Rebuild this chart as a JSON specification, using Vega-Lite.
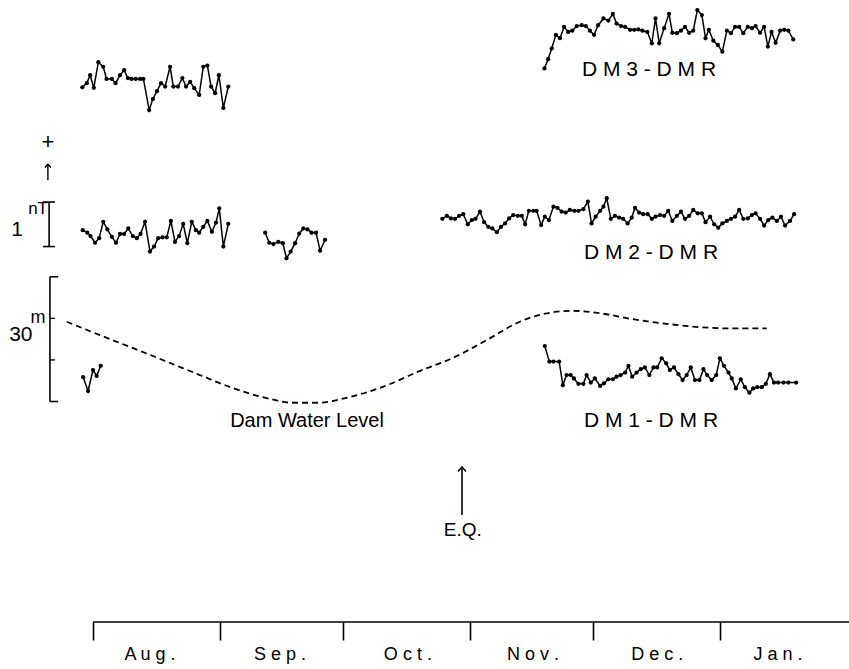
{
  "$schema": "https://vega.github.io/schema/vega-lite/v6.json",
  "width": 849,
  "height": 622,
  "autosize": {"type": "none"},
  "padding": {"left": 0, "top": 0, "right": 0, "bottom": 47},
  "background": "white",
  "config": {"view": {"stroke": null}, "text": {"font": "Liberation Sans", "color": "black"}},
  "data": {"values": [{}]},
  "datasets": {
    "months": [
      {"month": "A u g .", "mid": 13.9}, {"month": "S e p .", "mid": 45.6}, {"month": "O c t .", "mid": 76.8},
      {"month": "N o v .", "mid": 107.3}, {"month": "D e c .", "mid": 137.6}, {"month": "J a n .", "mid": 167.1}
    ],
    "obs": [
      {"seg":"DM3a","day":-2.6,"value":12.73},{"seg":"DM3a","day":-1.5,"value":12.83},{"seg":"DM3a","day":-0.7,"value":13.02},{"seg":"DM3a","day":0.2,"value":12.72},{"seg":"DM3a","day":1.3,"value":13.33},{"seg":"DM3a","day":2.5,"value":13.22},{"seg":"DM3a","day":3.3,"value":12.93},{"seg":"DM3a","day":4.6,"value":12.93},{"seg":"DM3a","day":5.5,"value":12.83},{"seg":"DM3a","day":6.6,"value":13.02},{"seg":"DM3a","day":7.6,"value":13.14},{"seg":"DM3a","day":8.5,"value":12.95},{"seg":"DM3a","day":9.4,"value":12.93},{"seg":"DM3a","day":10.4,"value":12.93},{"seg":"DM3a","day":11.5,"value":12.93},{"seg":"DM3a","day":12.3,"value":12.93},{"seg":"DM3a","day":13.7,"value":12.19},{"seg":"DM3a","day":14.6,"value":12.45},{"seg":"DM3a","day":15.6,"value":12.64},{"seg":"DM3a","day":16.6,"value":12.83},{"seg":"DM3a","day":17.6,"value":12.75},{"seg":"DM3a","day":18.8,"value":13.22},{"seg":"DM3a","day":19.6,"value":12.75},{"seg":"DM3a","day":20.7,"value":12.75},{"seg":"DM3a","day":21.8,"value":12.95},{"seg":"DM3a","day":22.7,"value":12.75},{"seg":"DM3a","day":23.7,"value":12.86},{"seg":"DM3a","day":24.7,"value":12.71},{"seg":"DM3a","day":25.9,"value":12.55},{"seg":"DM3a","day":26.9,"value":13.22},{"seg":"DM3a","day":27.9,"value":13.25},{"seg":"DM3a","day":28.8,"value":12.75},{"seg":"DM3a","day":29.8,"value":12.59},{"seg":"DM3a","day":30.7,"value":13.02},{"seg":"DM3a","day":31.8,"value":12.24},{"seg":"DM3a","day":33.0,"value":12.75},
      {"seg":"DM3b","day":110.1,"value":13.18},{"seg":"DM3b","day":111.0,"value":13.40},{"seg":"DM3b","day":111.9,"value":13.66},{"seg":"DM3b","day":112.9,"value":13.98},{"seg":"DM3b","day":113.9,"value":13.90},{"seg":"DM3b","day":114.9,"value":14.17},{"seg":"DM3b","day":115.9,"value":14.05},{"seg":"DM3b","day":116.9,"value":14.08},{"seg":"DM3b","day":118.0,"value":14.19},{"seg":"DM3b","day":119.2,"value":14.21},{"seg":"DM3b","day":120.2,"value":14.19},{"seg":"DM3b","day":121.2,"value":14.08},{"seg":"DM3b","day":122.2,"value":13.98},{"seg":"DM3b","day":123.2,"value":14.21},{"seg":"DM3b","day":124.5,"value":14.37},{"seg":"DM3b","day":125.7,"value":14.32},{"seg":"DM3b","day":126.8,"value":14.48},{"seg":"DM3b","day":127.7,"value":14.25},{"seg":"DM3b","day":128.8,"value":14.19},{"seg":"DM3b","day":129.8,"value":14.17},{"seg":"DM3b","day":131.0,"value":14.10},{"seg":"DM3b","day":132.0,"value":14.10},{"seg":"DM3b","day":133.0,"value":14.11},{"seg":"DM3b","day":134.0,"value":14.08},{"seg":"DM3b","day":135.2,"value":14.05},{"seg":"DM3b","day":136.3,"value":13.78},{"seg":"DM3b","day":137.2,"value":14.37},{"seg":"DM3b","day":138.1,"value":13.78},{"seg":"DM3b","day":139.3,"value":14.14},{"seg":"DM3b","day":140.5,"value":14.48},{"seg":"DM3b","day":141.3,"value":14.03},{"seg":"DM3b","day":142.4,"value":14.02},{"seg":"DM3b","day":143.4,"value":14.08},{"seg":"DM3b","day":144.4,"value":14.17},{"seg":"DM3b","day":145.4,"value":14.03},{"seg":"DM3b","day":146.4,"value":14.08},{"seg":"DM3b","day":147.4,"value":14.57},{"seg":"DM3b","day":148.5,"value":14.45},{"seg":"DM3b","day":149.4,"value":13.90},{"seg":"DM3b","day":150.2,"value":14.10},{"seg":"DM3b","day":151.3,"value":13.84},{"seg":"DM3b","day":152.4,"value":13.74},{"seg":"DM3b","day":153.5,"value":13.58},{"seg":"DM3b","day":154.6,"value":14.08},{"seg":"DM3b","day":155.6,"value":14.02},{"seg":"DM3b","day":156.6,"value":14.17},{"seg":"DM3b","day":157.6,"value":14.17},{"seg":"DM3b","day":158.6,"value":14.02},{"seg":"DM3b","day":159.7,"value":14.17},{"seg":"DM3b","day":160.7,"value":14.14},{"seg":"DM3b","day":161.6,"value":14.19},{"seg":"DM3b","day":162.7,"value":14.03},{"seg":"DM3b","day":163.7,"value":14.17},{"seg":"DM3b","day":164.6,"value":13.70},{"seg":"DM3b","day":165.5,"value":14.05},{"seg":"DM3b","day":166.5,"value":13.79},{"seg":"DM3b","day":167.6,"value":14.08},{"seg":"DM3b","day":168.6,"value":14.10},{"seg":"DM3b","day":169.6,"value":14.08},{"seg":"DM3b","day":170.8,"value":13.87},
      {"seg":"DM2a","day":-2.5,"value":9.33},{"seg":"DM2a","day":-1.4,"value":9.27},{"seg":"DM2a","day":-0.6,"value":9.19},{"seg":"DM2a","day":0.5,"value":9.03},{"seg":"DM2a","day":1.5,"value":9.14},{"seg":"DM2a","day":2.5,"value":9.53},{"seg":"DM2a","day":3.5,"value":9.35},{"seg":"DM2a","day":4.6,"value":9.17},{"seg":"DM2a","day":5.6,"value":9.03},{"seg":"DM2a","day":6.6,"value":9.24},{"seg":"DM2a","day":7.6,"value":9.24},{"seg":"DM2a","day":8.6,"value":9.37},{"seg":"DM2a","day":9.7,"value":9.19},{"seg":"DM2a","day":10.7,"value":9.14},{"seg":"DM2a","day":11.6,"value":9.24},{"seg":"DM2a","day":12.7,"value":9.53},{"seg":"DM2a","day":13.9,"value":8.82},{"seg":"DM2a","day":14.9,"value":8.94},{"seg":"DM2a","day":15.9,"value":9.14},{"seg":"DM2a","day":17.0,"value":9.16},{"seg":"DM2a","day":18.0,"value":9.16},{"seg":"DM2a","day":19.0,"value":9.55},{"seg":"DM2a","day":20.0,"value":9.05},{"seg":"DM2a","day":21.0,"value":9.19},{"seg":"DM2a","day":22.0,"value":9.48},{"seg":"DM2a","day":23.0,"value":9.02},{"seg":"DM2a","day":24.1,"value":9.53},{"seg":"DM2a","day":25.1,"value":9.33},{"seg":"DM2a","day":25.9,"value":9.27},{"seg":"DM2a","day":26.9,"value":9.41},{"seg":"DM2a","day":27.9,"value":9.55},{"seg":"DM2a","day":29.0,"value":9.29},{"seg":"DM2a","day":30.0,"value":9.51},{"seg":"DM2a","day":30.8,"value":9.85},{"seg":"DM2a","day":31.8,"value":8.94},{"seg":"DM2a","day":33.0,"value":9.48},
      {"seg":"DM2b","day":42.0,"value":9.27},{"seg":"DM2b","day":43.0,"value":9.03},{"seg":"DM2b","day":44.0,"value":9.00},{"seg":"DM2b","day":45.2,"value":9.05},{"seg":"DM2b","day":46.3,"value":9.02},{"seg":"DM2b","day":47.2,"value":8.66},{"seg":"DM2b","day":48.2,"value":8.82},{"seg":"DM2b","day":49.3,"value":9.02},{"seg":"DM2b","day":50.3,"value":9.25},{"seg":"DM2b","day":51.3,"value":9.37},{"seg":"DM2b","day":52.3,"value":9.35},{"seg":"DM2b","day":53.3,"value":9.27},{"seg":"DM2b","day":54.4,"value":9.27},{"seg":"DM2b","day":55.4,"value":8.84},{"seg":"DM2b","day":56.6,"value":9.10},
      {"seg":"DM2c","day":85.2,"value":9.60},{"seg":"DM2c","day":86.3,"value":9.67},{"seg":"DM2c","day":87.3,"value":9.61},{"seg":"DM2c","day":88.3,"value":9.60},{"seg":"DM2c","day":89.3,"value":9.67},{"seg":"DM2c","day":90.3,"value":9.71},{"seg":"DM2c","day":91.4,"value":9.47},{"seg":"DM2c","day":92.4,"value":9.57},{"seg":"DM2c","day":93.3,"value":9.60},{"seg":"DM2c","day":94.4,"value":9.77},{"seg":"DM2c","day":95.4,"value":9.52},{"seg":"DM2c","day":96.4,"value":9.41},{"seg":"DM2c","day":97.4,"value":9.37},{"seg":"DM2c","day":98.5,"value":9.28},{"seg":"DM2c","day":99.5,"value":9.41},{"seg":"DM2c","day":100.5,"value":9.49},{"seg":"DM2c","day":101.5,"value":9.61},{"seg":"DM2c","day":102.5,"value":9.69},{"seg":"DM2c","day":103.6,"value":9.67},{"seg":"DM2c","day":104.6,"value":9.67},{"seg":"DM2c","day":105.4,"value":9.47},{"seg":"DM2c","day":106.3,"value":9.79},{"seg":"DM2c","day":107.4,"value":9.79},{"seg":"DM2c","day":108.2,"value":9.79},{"seg":"DM2c","day":109.3,"value":9.45},{"seg":"DM2c","day":110.2,"value":9.65},{"seg":"DM2c","day":111.2,"value":9.57},{"seg":"DM2c","day":112.3,"value":9.89},{"seg":"DM2c","day":113.3,"value":9.86},{"seg":"DM2c","day":114.3,"value":9.77},{"seg":"DM2c","day":115.3,"value":9.75},{"seg":"DM2c","day":116.3,"value":9.81},{"seg":"DM2c","day":117.4,"value":9.79},{"seg":"DM2c","day":118.4,"value":9.79},{"seg":"DM2c","day":119.6,"value":9.83},{"seg":"DM2c","day":120.7,"value":10.01},{"seg":"DM2c","day":121.6,"value":9.49},{"seg":"DM2c","day":122.6,"value":9.65},{"seg":"DM2c","day":123.7,"value":9.79},{"seg":"DM2c","day":124.5,"value":9.89},{"seg":"DM2c","day":125.3,"value":10.09},{"seg":"DM2c","day":126.3,"value":9.60},{"seg":"DM2c","day":127.3,"value":9.67},{"seg":"DM2c","day":128.3,"value":9.63},{"seg":"DM2c","day":129.3,"value":9.60},{"seg":"DM2c","day":130.4,"value":9.49},{"seg":"DM2c","day":131.4,"value":9.63},{"seg":"DM2c","day":132.2,"value":9.86},{"seg":"DM2c","day":133.2,"value":9.75},{"seg":"DM2c","day":134.2,"value":9.71},{"seg":"DM2c","day":135.3,"value":9.71},{"seg":"DM2c","day":136.3,"value":9.60},{"seg":"DM2c","day":137.2,"value":9.65},{"seg":"DM2c","day":138.3,"value":9.69},{"seg":"DM2c","day":139.3,"value":9.67},{"seg":"DM2c","day":140.3,"value":9.79},{"seg":"DM2c","day":141.3,"value":9.55},{"seg":"DM2c","day":142.4,"value":9.67},{"seg":"DM2c","day":143.4,"value":9.77},{"seg":"DM2c","day":144.4,"value":9.60},{"seg":"DM2c","day":145.4,"value":9.67},{"seg":"DM2c","day":146.4,"value":9.81},{"seg":"DM2c","day":147.5,"value":9.73},{"seg":"DM2c","day":148.5,"value":9.73},{"seg":"DM2c","day":149.4,"value":9.52},{"seg":"DM2c","day":150.5,"value":9.65},{"seg":"DM2c","day":151.5,"value":9.47},{"seg":"DM2c","day":152.5,"value":9.39},{"seg":"DM2c","day":153.5,"value":9.49},{"seg":"DM2c","day":154.6,"value":9.55},{"seg":"DM2c","day":155.6,"value":9.60},{"seg":"DM2c","day":156.6,"value":9.65},{"seg":"DM2c","day":157.6,"value":9.81},{"seg":"DM2c","day":158.6,"value":9.60},{"seg":"DM2c","day":159.7,"value":9.61},{"seg":"DM2c","day":160.7,"value":9.69},{"seg":"DM2c","day":161.6,"value":9.73},{"seg":"DM2c","day":162.7,"value":9.60},{"seg":"DM2c","day":163.7,"value":9.44},{"seg":"DM2c","day":164.7,"value":9.57},{"seg":"DM2c","day":165.7,"value":9.63},{"seg":"DM2c","day":166.8,"value":9.55},{"seg":"DM2c","day":167.8,"value":9.65},{"seg":"DM2c","day":168.8,"value":9.44},{"seg":"DM2c","day":170.0,"value":9.55},{"seg":"DM2c","day":171.0,"value":9.71},
      {"seg":"DM1a","day":-2.4,"value":5.83},{"seg":"DM1a","day":-1.2,"value":5.50},{"seg":"DM1a","day":0.0,"value":6.00},{"seg":"DM1a","day":0.9,"value":5.86},{"seg":"DM1a","day":1.9,"value":6.10},
      {"seg":"DM1b","day":110.2,"value":6.57},{"seg":"DM1b","day":111.3,"value":6.20},{"seg":"DM1b","day":112.3,"value":6.20},{"seg":"DM1b","day":113.7,"value":6.20},{"seg":"DM1b","day":114.6,"value":5.64},{"seg":"DM1b","day":115.5,"value":5.88},{"seg":"DM1b","day":116.5,"value":5.88},{"seg":"DM1b","day":117.3,"value":5.80},{"seg":"DM1b","day":118.4,"value":5.67},{"seg":"DM1b","day":119.6,"value":5.67},{"seg":"DM1b","day":120.4,"value":5.88},{"seg":"DM1b","day":121.4,"value":5.70},{"seg":"DM1b","day":122.4,"value":5.80},{"seg":"DM1b","day":123.7,"value":5.62},{"seg":"DM1b","day":124.6,"value":5.68},{"seg":"DM1b","day":125.7,"value":5.78},{"seg":"DM1b","day":126.8,"value":5.78},{"seg":"DM1b","day":127.7,"value":5.84},{"seg":"DM1b","day":128.7,"value":5.88},{"seg":"DM1b","day":129.8,"value":5.94},{"seg":"DM1b","day":130.6,"value":6.10},{"seg":"DM1b","day":131.5,"value":5.84},{"seg":"DM1b","day":132.6,"value":5.94},{"seg":"DM1b","day":133.6,"value":6.02},{"seg":"DM1b","day":134.6,"value":6.06},{"seg":"DM1b","day":135.7,"value":5.88},{"seg":"DM1b","day":136.7,"value":6.06},{"seg":"DM1b","day":137.6,"value":6.06},{"seg":"DM1b","day":138.7,"value":6.28},{"seg":"DM1b","day":139.8,"value":6.16},{"seg":"DM1b","day":140.7,"value":6.00},{"seg":"DM1b","day":141.7,"value":6.06},{"seg":"DM1b","day":142.8,"value":5.90},{"seg":"DM1b","day":143.8,"value":5.76},{"seg":"DM1b","day":144.8,"value":5.88},{"seg":"DM1b","day":145.8,"value":6.06},{"seg":"DM1b","day":146.8,"value":5.76},{"seg":"DM1b","day":147.9,"value":5.76},{"seg":"DM1b","day":148.9,"value":6.02},{"seg":"DM1b","day":149.8,"value":5.88},{"seg":"DM1b","day":150.9,"value":5.76},{"seg":"DM1b","day":152.0,"value":5.88},{"seg":"DM1b","day":152.9,"value":6.28},{"seg":"DM1b","day":153.9,"value":6.10},{"seg":"DM1b","day":155.0,"value":5.94},{"seg":"DM1b","day":155.8,"value":5.80},{"seg":"DM1b","day":156.8,"value":5.56},{"seg":"DM1b","day":158.0,"value":5.78},{"seg":"DM1b","day":159.0,"value":5.59},{"seg":"DM1b","day":160.1,"value":5.46},{"seg":"DM1b","day":161.0,"value":5.56},{"seg":"DM1b","day":162.0,"value":5.59},{"seg":"DM1b","day":163.1,"value":5.59},{"seg":"DM1b","day":164.1,"value":5.67},{"seg":"DM1b","day":165.1,"value":5.90},{"seg":"DM1b","day":166.1,"value":5.70},{"seg":"DM1b","day":167.1,"value":5.70},{"seg":"DM1b","day":168.4,"value":5.70},{"seg":"DM1b","day":169.6,"value":5.70},{"seg":"DM1b","day":171.5,"value":5.70}
    ],
    "dam": [
      {"day":-6.4,"level":7.15},{"day":1.7,"level":6.83},{"day":9.8,"level":6.52},{"day":18.0,"level":6.20},{"day":26.1,"level":5.88},{"day":34.1,"level":5.57},{"day":42.4,"level":5.33},{"day":48.8,"level":5.22},{"day":54.6,"level":5.22},{"day":62.7,"level":5.36},{"day":70.7,"level":5.60},{"day":79.8,"level":5.98},{"day":87.8,"level":6.29},{"day":96.0,"level":6.71},{"day":104.1,"level":7.15},{"day":110.7,"level":7.35},{"day":117.1,"level":7.41},{"day":123.7,"level":7.35},{"day":131.7,"level":7.21},{"day":139.9,"level":7.10},{"day":148.0,"level":7.02},{"day":156.1,"level":6.99},{"day":164.3,"level":6.99}
    ]
  },
  "layer": [
    {
      "data": {"name": "obs"},
      "mark": {"type": "line", "color": "black", "strokeWidth": 1.5, "point": {"filled": true, "size": 18, "color": "black", "opacity": 1}},
      "encoding": {
        "x": {"field": "day", "type": "quantitative",
          "scale": {"domain": [-22.68, 184.39], "nice": false, "zero": false},
          "axis": {"values": [0, 31, 61, 92, 122, 153], "domain": false, "grid": false, "ticks": true, "tickSize": 18, "tickWidth": 1.6, "tickColor": "black", "labels": false, "title": null}},
        "y": {"field": "value", "type": "quantitative", "scale": {"domain": [0, 14.81], "nice": false, "zero": false}, "axis": null},
        "detail": {"field": "seg"}
      }
    },
    {
      "data": {"name": "dam"},
      "mark": {"type": "line", "color": "black", "strokeWidth": 1.8, "strokeDash": [6, 4], "interpolate": "monotone"},
      "encoding": {
        "x": {"field": "day", "type": "quantitative", "title": null},
        "y": {"field": "level", "type": "quantitative", "axis": null}
      }
    },
    {
      "data": {"name": "months"},
      "mark": {"type": "text", "fontSize": 18, "align": "center", "baseline": "middle"},
      "encoding": {
        "x": {"field": "mid", "type": "quantitative", "title": null},
        "y": {"datum": -0.79, "type": "quantitative", "axis": null},
        "text": {"field": "month"}
      }
    },
    {"mark": {"type": "rule", "color": "black", "strokeWidth": 1.6}, "encoding": {"x": {"datum": 0, "type": "quantitative"}, "x2": {"datum": 184.39}, "y": {"datum": 0, "type": "quantitative", "axis": null}}},
    {"mark": {"type": "rule", "color": "black", "strokeWidth": 1.6}, "encoding": {"x": {"datum": -10.7, "type": "quantitative"}, "y": {"datum": 8.94, "type": "quantitative", "axis": null}, "y2": {"datum": 10.0}}},
    {"mark": {"type": "rule", "color": "black", "strokeWidth": 1.6}, "encoding": {"x": {"datum": -12.2, "type": "quantitative"}, "x2": {"datum": -9.3}, "y": {"datum": 10.0, "type": "quantitative", "axis": null}}},
    {"mark": {"type": "rule", "color": "black", "strokeWidth": 1.6}, "encoding": {"x": {"datum": -12.2, "type": "quantitative"}, "x2": {"datum": -9.3}, "y": {"datum": 8.94, "type": "quantitative", "axis": null}}},
    {"mark": {"type": "rule", "color": "black", "strokeWidth": 1.6}, "encoding": {"x": {"datum": -10.5, "type": "quantitative"}, "y": {"datum": 5.25, "type": "quantitative", "axis": null}, "y2": {"datum": 8.22}}},
    {"mark": {"type": "rule", "color": "black", "strokeWidth": 1.6}, "encoding": {"x": {"datum": -10.5, "type": "quantitative"}, "x2": {"datum": -8.5}, "y": {"datum": 8.22, "type": "quantitative", "axis": null}}},
    {"mark": {"type": "rule", "color": "black", "strokeWidth": 1.6}, "encoding": {"x": {"datum": -10.5, "type": "quantitative"}, "x2": {"datum": -8.5}, "y": {"datum": 5.25, "type": "quantitative", "axis": null}}},
    {"mark": {"type": "rule", "color": "black", "strokeWidth": 1.4}, "encoding": {"x": {"datum": -10.5, "type": "quantitative"}, "x2": {"datum": -9.3}, "y": {"datum": 7.23, "type": "quantitative", "axis": null}}},
    {"mark": {"type": "rule", "color": "black", "strokeWidth": 1.4}, "encoding": {"x": {"datum": -10.5, "type": "quantitative"}, "x2": {"datum": -9.3}, "y": {"datum": 6.24, "type": "quantitative", "axis": null}}},
    {"mark": {"type": "rule", "color": "black", "strokeWidth": 1.4}, "encoding": {"x": {"datum": -11.0, "type": "quantitative"}, "y": {"datum": 10.52, "type": "quantitative", "axis": null}, "y2": {"datum": 10.9}}},
    {"mark": {"type": "point", "shape": "M-1,1.1L0,0L1,1.1", "filled": false, "size": 36, "strokeWidth": 1.4, "color": "black", "opacity": 1}, "encoding": {"x": {"datum": -11.0, "type": "quantitative"}, "y": {"datum": 10.9, "type": "quantitative", "axis": null}}},
    {"mark": {"type": "rule", "color": "black", "strokeWidth": 1.6}, "encoding": {"x": {"datum": 90.0, "type": "quantitative"}, "y": {"datum": 2.55, "type": "quantitative", "axis": null}, "y2": {"datum": 3.69}}},
    {"mark": {"type": "point", "shape": "M-1,1.1L0,0L1,1.1", "filled": false, "size": 64, "strokeWidth": 1.6, "color": "black", "opacity": 1}, "encoding": {"x": {"datum": 90.0, "type": "quantitative"}, "y": {"datum": 3.69, "type": "quantitative", "axis": null}}},
    {"mark": {"type": "text", "text": "+", "fontSize": 22, "align": "center", "baseline": "middle"}, "encoding": {"x": {"datum": -11.0, "type": "quantitative"}, "y": {"datum": 11.44, "type": "quantitative", "axis": null}}},
    {"mark": {"type": "text", "text": "1", "fontSize": 21, "align": "center", "baseline": "middle"}, "encoding": {"x": {"datum": -18.5, "type": "quantitative"}, "y": {"datum": 9.33, "type": "quantitative", "axis": null}}},
    {"mark": {"type": "text", "text": "nT", "fontSize": 17, "align": "center", "baseline": "middle"}, "encoding": {"x": {"datum": -13.4, "type": "quantitative"}, "y": {"datum": 9.84, "type": "quantitative", "axis": null}}},
    {"mark": {"type": "text", "text": "30", "fontSize": 21, "align": "center", "baseline": "middle"}, "encoding": {"x": {"datum": -17.6, "type": "quantitative"}, "y": {"datum": 6.83, "type": "quantitative", "axis": null}}},
    {"mark": {"type": "text", "text": "m", "fontSize": 18, "align": "center", "baseline": "middle"}, "encoding": {"x": {"datum": -13.4, "type": "quantitative"}, "y": {"datum": 7.23, "type": "quantitative", "axis": null}}},
    {"mark": {"type": "text", "text": "D M 3 - D M R", "fontSize": 21, "align": "center", "baseline": "middle"}, "encoding": {"x": {"datum": 135.6, "type": "quantitative"}, "y": {"datum": 13.14, "type": "quantitative", "axis": null}}},
    {"mark": {"type": "text", "text": "D M 2 - D M R", "fontSize": 21, "align": "center", "baseline": "middle"}, "encoding": {"x": {"datum": 136.1, "type": "quantitative"}, "y": {"datum": 8.79, "type": "quantitative", "axis": null}}},
    {"mark": {"type": "text", "text": "D M 1 - D M R", "fontSize": 21, "align": "center", "baseline": "middle"}, "encoding": {"x": {"datum": 136.1, "type": "quantitative"}, "y": {"datum": 4.79, "type": "quantitative", "axis": null}}},
    {"mark": {"type": "text", "text": "Dam Water Level", "fontSize": 20, "align": "center", "baseline": "middle"}, "encoding": {"x": {"datum": 52.2, "type": "quantitative"}, "y": {"datum": 4.79, "type": "quantitative", "axis": null}}},
    {"mark": {"type": "text", "text": "E.Q.", "fontSize": 19, "align": "center", "baseline": "middle"}, "encoding": {"x": {"datum": 90.2, "type": "quantitative"}, "y": {"datum": 2.19, "type": "quantitative", "axis": null}}}
  ]
}
